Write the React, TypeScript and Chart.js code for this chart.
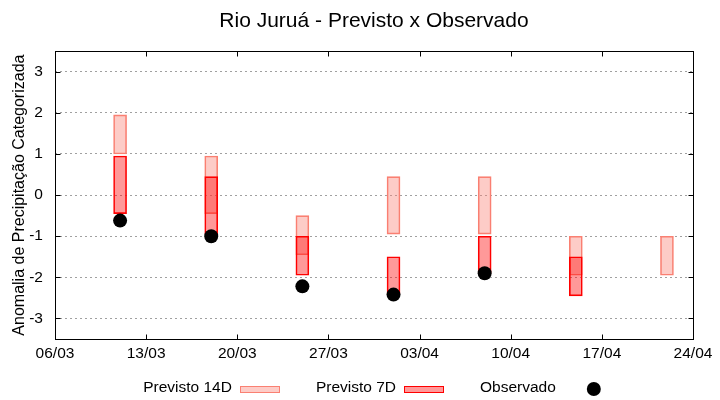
import React, { useEffect, useRef } from "react";
import { Chart, registerables } from "chart.js";

Chart.register(...registerables);

// ---------- data ----------
const chartTitle = "Rio Juruá - Previsto x Observado";
const yAxisTitle = "Anomalia de Precipitação Categorizada";
const seriesNames = ["Previsto 14D", "Previsto 7D", "Observado"];

const xTickLabels = ["06/03", "13/03", "20/03", "27/03", "03/04", "10/04", "17/04", "24/04"];
const yTickValues = [-3, -2, -1, 0, 1, 2, 3];

const forecastDates = ["11/03", "18/03", "25/03", "01/04", "08/04", "15/04", "22/04"];
const prev14Low = [1.0, -0.45, -1.45, -0.95, -0.95, -1.95, -1.95];
const prev14High = [1.95, 0.95, -0.5, 0.45, 0.45, -1.0, -1.0];
const prev7Low = [-0.45, -0.95, -1.95, -2.4, -1.9, -2.45, null];
const prev7High = [0.95, 0.45, -1.0, -1.5, -1.0, -1.5, null];
const observed = [-0.62, -1.0, -2.22, -2.42, -1.9, null, null];

const YEAR = 2024;

function toUTC(label: string): number {
  const [d, m] = label.split("/").map(Number);
  return Date.UTC(YEAR, m - 1, d);
}
function dayOffset(label: string): number {
  return Math.round((toUTC(label) - toUTC(xTickLabels[0])) / 86400000);
}

const FONT = '"Liberation Sans", Arial, Helvetica, sans-serif';

const c14Fill = "rgba(250,128,114,0.4)";
const c14Border = "#fa8072";
const c7Fill = "rgba(255,0,0,0.4)";
const c7Border = "#ff0000";

const framePlugin = {
  id: "gnuFrame",
  afterDraw(chart: any) {
    const { ctx, chartArea, scales } = chart;
    const x = scales.x;
    const y = scales.y;
    const L = Math.round(chartArea.left) + 0.5;
    const R = Math.round(chartArea.right) + 0.5;
    const T = Math.round(chartArea.top) + 0.5;
    const B = Math.round(chartArea.bottom) + 0.5;
    ctx.save();
    ctx.strokeStyle = "#000";
    ctx.lineWidth = 1;
    ctx.setLineDash([]);
    ctx.strokeRect(L, T, R - L, B - T);
    ctx.beginPath();
    const tl = 5;
    x.ticks.forEach((t: any) => {
      const px = Math.round(x.getPixelForValue(t.value)) + 0.5;
      ctx.moveTo(px, B);
      ctx.lineTo(px, B - tl);
      ctx.moveTo(px, T);
      ctx.lineTo(px, T + tl);
    });
    y.ticks.forEach((t: any) => {
      const py = Math.round(y.getPixelForValue(t.value)) + 0.5;
      ctx.moveTo(L, py);
      ctx.lineTo(L + tl, py);
      ctx.moveTo(R, py);
      ctx.lineTo(R - tl, py);
    });
    ctx.stroke();

    // legend (gnuplot style: text then sample)
    const ds = chart.data.datasets;
    ctx.font = `15.5px ${FONT}`;
    ctx.textBaseline = "middle";
    ctx.textAlign = "left";
    const gapTextSample = 8;
    const sampleW = 40;
    const itemGap = 36;
    const widths = ds.map((d: any) => {
      const tw = ctx.measureText(d.label).width;
      const sw = d.type === "scatter" ? 37 : sampleW;
      return { tw, sw, w: tw + gapTextSample + sw };
    });
    const total = widths.reduce((a: number, b: any) => a + b.w, 0) + itemGap * (ds.length - 1);
    const cx = (chartArea.left + chartArea.right) / 2;
    let cur = cx - total / 2 - 2;
    const ly = chart.height - 12;
    ds.forEach((d: any, i: number) => {
      ctx.fillStyle = "#000";
      ctx.fillText(d.label, cur, ly);
      const sx = cur + widths[i].tw + gapTextSample;
      if (d.type === "scatter") {
        ctx.beginPath();
        ctx.arc(sx + widths[i].sw - 7, ly + 1, 7, 0, Math.PI * 2);
        ctx.fillStyle = d.backgroundColor;
        ctx.fill();
      } else {
        ctx.fillStyle = "#fff";
        ctx.fillRect(Math.round(sx), Math.round(ly - 2), sampleW, 7);
        ctx.fillStyle = d.backgroundColor;
        ctx.fillRect(Math.round(sx), Math.round(ly - 2), sampleW, 7);
        ctx.strokeStyle = d.borderColor;
        ctx.lineWidth = 1;
        ctx.strokeRect(Math.round(sx) + 0.5, Math.round(ly - 2) + 0.5, sampleW - 1, 6);
      }
      cur += widths[i].w + itemGap;
    });
    ctx.restore();
  },
};

export default function App() {
  const canvasRef = useRef<HTMLCanvasElement | null>(null);

  useEffect(() => {
    if (!canvasRef.current) return;
    Chart.defaults.font.family = FONT;
    Chart.defaults.color = "#000";

    const data14 = forecastDates
      .map((d, i) => ({ x: dayOffset(d), y: [prev14Low[i], prev14High[i]] }))
      .filter((p, i) => prev14Low[i] !== null && prev14High[i] !== null);
    const data7 = forecastDates
      .map((d, i) => ({ x: dayOffset(d), y: [prev7Low[i], prev7High[i]] }))
      .filter((p, i) => prev7Low[i] !== null && prev7High[i] !== null);
    const dataObs = forecastDates
      .map((d, i) => ({ x: dayOffset(d), y: observed[i] }))
      .filter((p) => p.y !== null);

    const chart = new Chart(canvasRef.current, {
      type: "bar",
      data: {
        datasets: [
          {
            type: "bar",
            label: seriesNames[0],
            data: data14 as any,
            backgroundColor: c14Fill,
            borderColor: c14Border,
            borderWidth: 1,
            borderSkipped: false,
            barThickness: 13,
            grouped: false,
            order: 2,
          } as any,
          {
            type: "bar",
            label: seriesNames[1],
            data: data7 as any,
            backgroundColor: c7Fill,
            borderColor: c7Border,
            borderWidth: 1,
            borderSkipped: false,
            barThickness: 13,
            grouped: false,
            order: 1,
          } as any,
          {
            type: "scatter",
            label: seriesNames[2],
            data: dataObs as any,
            backgroundColor: "#000",
            borderColor: "#000",
            borderWidth: 0,
            pointRadius: 7,
            pointHoverRadius: 7,
            showLine: false,
            order: 0,
          } as any,
        ],
      },
      options: {
        animation: false,
        responsive: false,
        maintainAspectRatio: false,
        events: [],
        layout: { padding: { left: 3, right: 27, top: 0, bottom: 32.4 } },
        plugins: {
          legend: { display: false },
          tooltip: { enabled: false },
          title: {
            display: true,
            text: chartTitle,
            color: "#000",
            fullSize: false,
            font: { size: 21, weight: "normal", family: FONT },
            padding: { top: 9, bottom: 17 },
          },
        },
        scales: {
          x: {
            type: "linear",
            min: 0,
            max: dayOffset(xTickLabels[xTickLabels.length - 1]),
            offset: false,
            grid: { display: false, drawTicks: false },
            border: { display: false },
            afterBuildTicks: (scale: any) => {
              scale.ticks = xTickLabels.map((l) => ({ value: dayOffset(l) }));
            },
            ticks: {
              autoSkip: false,
              maxRotation: 0,
              padding: 5,
              color: "#000",
              font: { size: 15.5, family: FONT },
              callback: (_v: any, i: number) => xTickLabels[i],
            },
          },
          y: {
            type: "linear",
            min: -3.5,
            max: 3.5,
            afterBuildTicks: (scale: any) => {
              scale.ticks = yTickValues.map((v) => ({ value: v }));
            },
            grid: { color: "#a0a0a0", lineWidth: 1, drawTicks: false },
            border: { display: false, dash: [2, 3] },
            ticks: {
              padding: 12,
              color: "#000",
              font: { size: 15.5, family: FONT },
              callback: (v: any) => String(v),
            },
            title: {
              display: true,
              text: yAxisTitle,
              color: "#000",
              font: { size: 16, family: FONT },
              padding: { top: 7, bottom: -12 },
            },
          },
        },
      },
      plugins: [framePlugin],
    } as any);

    return () => chart.destroy();
  }, []);

  return (
    <div style={{ position: "fixed", left: 0, top: 0, width: 720, height: 400, background: "#fff" }}>
      <canvas ref={canvasRef} width={720} height={400} style={{ width: 720, height: 400, display: "block" }} />
    </div>
  );
}
